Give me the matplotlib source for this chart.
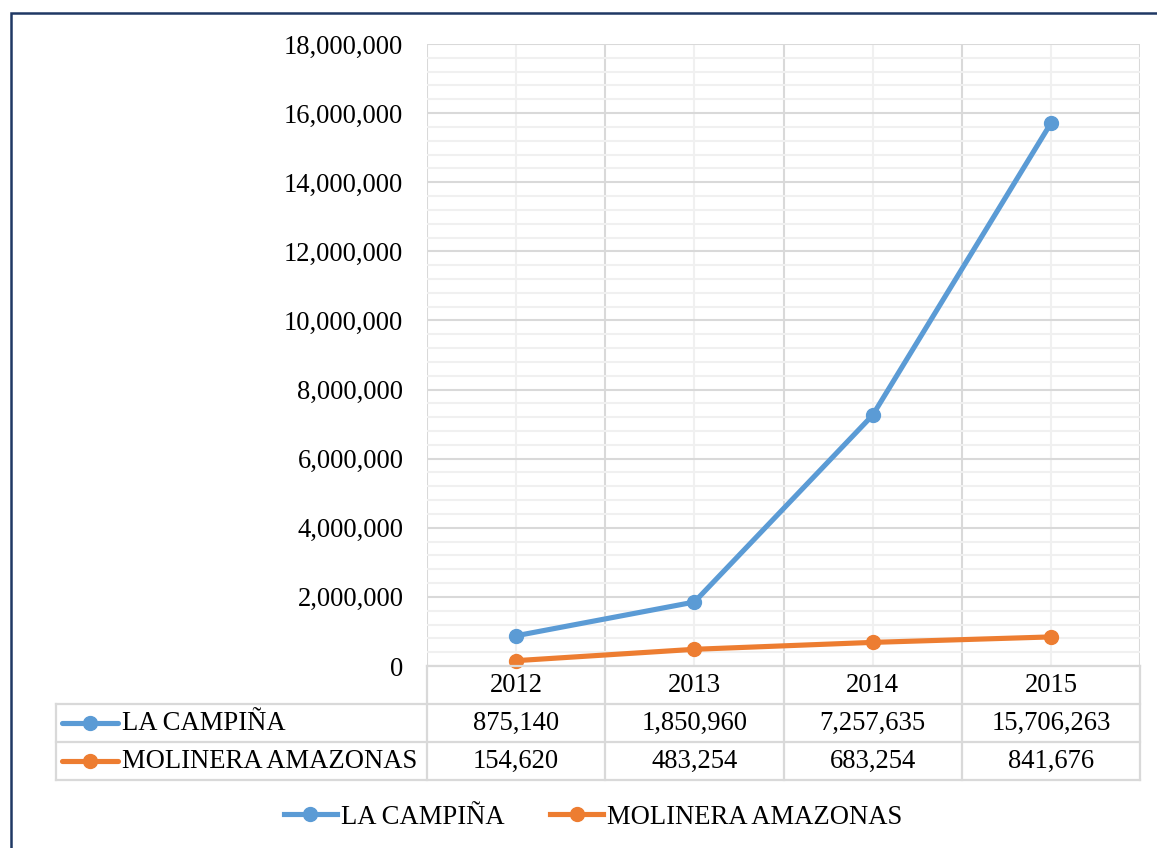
"""Line chart with Excel-style data table: LA CAMPIÑA vs MOLINERA AMAZONAS."""

import matplotlib
matplotlib.use("Agg")
import matplotlib.pyplot as plt
from matplotlib.lines import Line2D
from matplotlib.patches import Rectangle
from matplotlib.ticker import FuncFormatter, MultipleLocator

years = ["2012", "2013", "2014", "2015"]
series_names = ["LA CAMPIÑA", "MOLINERA AMAZONAS"]
la_campina = [875140, 1850960, 7257635, 15706263]
molinera = [154620, 483254, 683254, 841676]
colors = ["#5B9BD5", "#ED7D31"]

plt.rcParams["font.family"] = ["Liberation Serif", "DejaVu Serif"]
FS = 19.2
plt.rcParams["font.size"] = FS
LW, MS = 3.7, 10

W, H = 1157, 848
fig = plt.figure(figsize=(W / 100, H / 100), dpi=100)

# pixel layout of the plot area and the table below it
px_left, px_right, px_top, px_bottom = 427, 1140, 44, 666
tbl_left, tbl_bottom = 56, 780

ax = fig.add_axes([px_left / W, 1 - px_bottom / H,
                   (px_right - px_left) / W, (px_bottom - px_top) / H])

xs = [i + 0.5 for i in range(len(years))]
for vals, name, c in zip([la_campina, molinera], series_names, colors):
    ax.plot(xs, vals, color=c, lw=LW, marker="o", ms=MS, label=name,
            solid_capstyle="round", zorder=3, clip_on=False)

ax.set_xlim(0, len(years))
ax.set_ylim(0, 18000000)
ax.yaxis.set_major_locator(MultipleLocator(2000000))
ax.yaxis.set_minor_locator(MultipleLocator(400000))
ax.set_xticks(range(len(years) + 1))
ax.set_xticks(xs, minor=True)
ax.yaxis.set_major_formatter(FuncFormatter(lambda v, p: f"{v:,.0f}"))
ax.tick_params(axis="both", which="both", length=0)
ax.tick_params(axis="y", pad=17, labelsize=FS)
ax.set_xticklabels([])
ax.grid(which="major", color="#D9D9D9", lw=1.5, zorder=0)
ax.grid(which="minor", color="#F0F0F0", lw=1.5, zorder=0)
for s in ax.spines.values():
    s.set_visible(False)

# data table
n = len(years)
col_w = (px_right - px_left) / n
left_units = (px_left - tbl_left) / col_w
tax = fig.add_axes([tbl_left / W, 1 - tbl_bottom / H,
                    (px_right - tbl_left) / W, (tbl_bottom - px_bottom) / H])
tax.set_xlim(-left_units, n)
tax.set_ylim(3, 0)
tax.axis("off")
lc = "#D9D9D9"
lw = 1.6
tax.plot([0, n], [0, 0], color=lc, lw=lw, clip_on=False)
for r in (1, 2, 3):
    tax.plot([-left_units, n], [r, r], color=lc, lw=lw, clip_on=False)
tax.plot([-left_units, -left_units], [1, 3], color=lc, lw=lw, clip_on=False)
for c in range(n + 1):
    tax.plot([c, c], [0, 3], color=lc, lw=lw, clip_on=False)

for i, y in enumerate(years):
    tax.text(i + 0.5, 0.52, y, ha="center", va="center", fontsize=FS)
for r, (vals, name, c) in enumerate(zip([la_campina, molinera], series_names, colors), start=1):
    for i, v in enumerate(vals):
        tax.text(i + 0.5, r + 0.52, f"{v:,}", ha="center", va="center", fontsize=FS)
    x0 = -left_units + 6 / col_w
    x1 = -left_units + 62 / col_w
    tax.plot([x0, x1], [r + 0.5, r + 0.5], color=c, lw=LW, solid_capstyle="round")
    tax.plot([(x0 + x1) / 2], [r + 0.5], color=c, marker="o", ms=MS)
    tax.text(-left_units + 66 / col_w, r + 0.52, name, ha="left", va="center", fontsize=FS)

handles = [Line2D([0], [0], color=c, lw=LW, marker="o", ms=MS) for c in colors]
fig.legend(handles, series_names, loc="center", bbox_to_anchor=(593 / W, 1 - 817 / H),
           ncol=2, frameon=False, fontsize=FS, handlelength=2.0, handletextpad=0.15,
           columnspacing=1.7)

# outer frame
fig.patches.append(Rectangle((11 / W, -0.05), 1.1, 1 - 13 / H + 0.05,
                             transform=fig.transFigure, fill=False,
                             edgecolor="#1F3864", lw=1.8))

fig.savefig("out.png", dpi=100)
